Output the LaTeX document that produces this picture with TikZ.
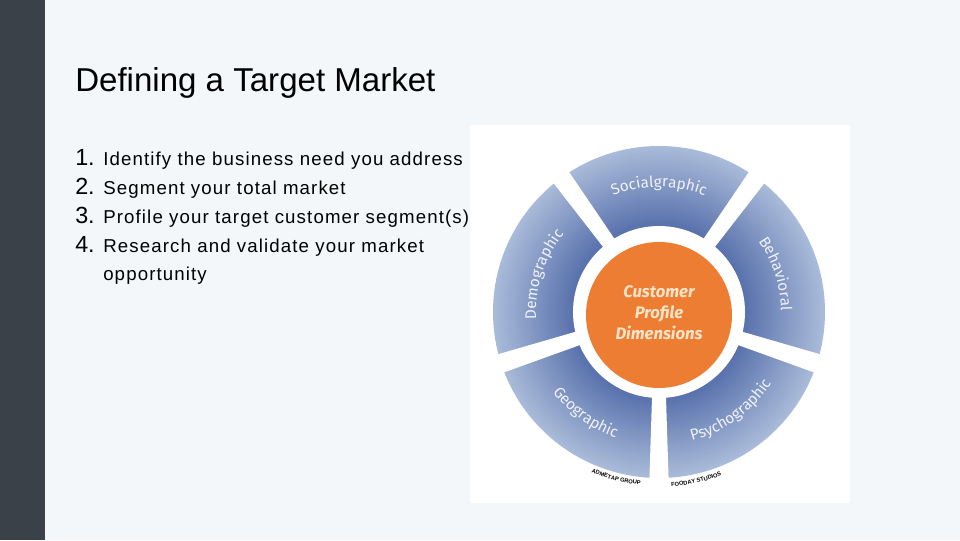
\documentclass[tikz,border=0pt]{standalone}
\usepackage{fontspec}
\setmainfont{Liberation Sans}
\newfontfamily\segfont{Fira Sans}
\usetikzlibrary{decorations.text}
\definecolor{slidebg}{HTML}{F3F7FA}
\definecolor{sidebar}{HTML}{3A4149}
\definecolor{ringin}{HTML}{5870AC}
\definecolor{ringout}{HTML}{A9BBD9}
\definecolor{orangec}{HTML}{EE7D34}
\definecolor{ctrtext}{HTML}{FCE4C8}
\definecolor{segtext}{HTML}{EEF2F9}
\tikzset{
  numstyle/.style={anchor=base west, inner sep=0pt, font=\fontsize{17.5}{19}\selectfont},
  itemstyle/.style={anchor=base west, inner sep=0pt, font=\fontsize{14}{16}\selectfont\addfontfeatures{LetterSpace=6}},
  seglabel/.style={decorate, decoration={text along path, text align=center, text color=segtext,
     text={|\segfont\fontsize{11.5}{13}\selectfont|#1}}},
  credit/.style={decorate, decoration={text along path, text align=center, text color=black,
     text={|\bfseries\fontsize{4.3}{5}\selectfont|#1}}}
}
\begin{document}
\begin{tikzpicture}[x=0.75pt,y=0.75pt]
\useasboundingbox (0,0) rectangle (960,540);
\fill[slidebg] (0,0) rectangle (960,540);
\fill[sidebar] (0,0) rectangle (45,540);
\node[anchor=base west, inner sep=0pt, font=\fontsize{24.8}{28}\selectfont] (title) at (75,448) {Defining a Target Market};
\node[numstyle] (n1) at (75,374) {1.};
\node[itemstyle] (t1) at (103,374) {Identify the business need you address};
\node[numstyle] (n2) at (75,345) {2.};
\node[itemstyle] (t2) at (103,345) {Segment your total market};
\node[numstyle] (n3) at (75,316) {3.};
\node[itemstyle] (t3) at (103,316) {Profile your target customer segment(s)};
\node[numstyle] (n4) at (75,287) {4.};
\node[itemstyle] (t4) at (103,287) {Research and validate your market};
\node[itemstyle] (t5) at (103,260) {opportunity};
% picture panel
\fill[white] (470,37) rectangle (850,415);
\begin{scope}[shift={(659,228)}]
  \foreach \i in {0,...,40} {
    \pgfmathsetmacro\rr{166-2*\i}
    \pgfmathsetmacro\pp{2.5*\i}
    \fill[ringin!\pp!ringout] (0,0) circle (\rr);
  }
  \fill[white] (0,0) circle (86);
  \foreach \a in {54,-18,-90,198,126}
    \fill[white, rotate=\a] (70,-6.5) -- (180,-10) -- (180,10) -- (70,6.5) -- cycle;
  \fill[orangec] (0,-3) circle (73);
  \node[align=center, text=ctrtext, font=\segfont\bfseries\itshape\fontsize{12.5}{15.8}\selectfont] (ctr) at (0,-1) {Customer\\Profile\\Dimensions};
  \path[seglabel=Socialgraphic] (126:125) arc[start angle=126, end angle=54, radius=125];
  \path[seglabel=Behavioral] (54:122) arc[start angle=54, end angle=-18, radius=122];
  \path[seglabel=Demographic] (198:123) arc[start angle=198, end angle=126, radius=123];
  \path[seglabel=Psychographic] (-90:133) arc[start angle=-90, end angle=-18, radius=133];
  \path[seglabel=Geographic] (198:133) arc[start angle=198, end angle=270, radius=133];
  \path[credit=ADMETAP GROUP] (245:174) arc[start angle=245, end angle=266, radius=174];
  \path[credit=FOODAY STUDIOS] (-88:175) arc[start angle=-88, end angle=-67, radius=175];
\end{scope}
\end{tikzpicture}
\end{document}
